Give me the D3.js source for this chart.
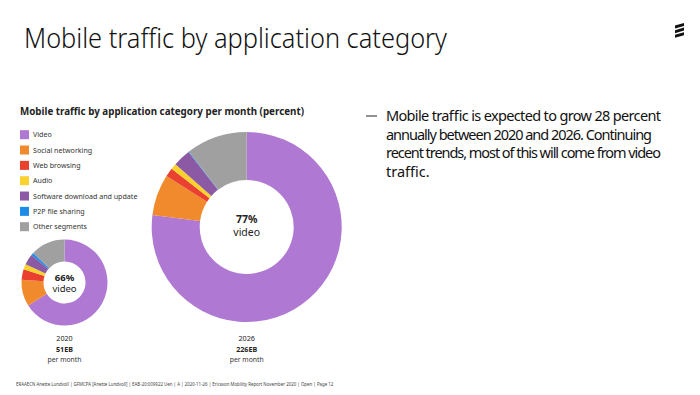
<!DOCTYPE html>
<html>
<head>
<meta charset="utf-8">
<script src="https://cdn.jsdelivr.net/npm/d3@7"></script>
<style>
  html, body { margin: 0; padding: 0; background: #fff; }
  svg { display: block; font-family: "Noto Sans", "DejaVu Sans", sans-serif; }
</style>
</head>
<body>
<svg id="chart" width="700" height="395"></svg>
<script>
// Data
const categories = ['Video', 'Social networking', 'Web browsing', 'Audio',
  'Software download and update', 'P2P file sharing', 'Other segments'];
const colors = ['#af78d2', '#f08a2c', '#e9402f', '#fad22d', '#8c5aa5', '#1e8ce6', '#a0a0a0'];
const share2020 = [66, 10, 4, 2, 4, 1, 13];
const share2026 = [77, 7, 1.5, 1, 3, 0.1, 10.4];
const years = ['2020', '2026'];
const volumes = ['51EB', '226EB'];
const videoLabels = ['66%', '77%'];
const bulletLines = [
  'Mobile traffic is expected to grow 28 percent',
  'annually between 2020 and 2026. Continuing',
  'recent trends, most of this will come from video',
  'traffic.'
];
const bulletWidths = [275, 266, 275, null];
const footer = 'ERAAECN Anette Lundvoll  |  GFMCPA [Anette Lundvoll]  |  EAB-20:009922 Uen  |  A  |  2020-11-26  |  Ericsson Mobility Report November 2020  |  Open  |  Page 12';

const svg = d3.select('#chart');

// Slide title
svg.append('text')
  .attr('x', 24).attr('y', 48)
  .attr('font-size', 28).attr('font-weight', 300)
  .attr('textLength', 423).attr('lengthAdjust', 'spacingAndGlyphs')
  .attr('fill', '#111')
  .text('Mobile traffic by application category');

// Logo: three slanted bars
const logo = svg.append('g').attr('transform', 'translate(675,23)');
[0, 4.6, 9.2].forEach(y => {
  logo.append('path')
    .attr('d', `M0,${y + 2.6} L9,${y} L9,${y + 3} L0,${y + 5.6} Z`)
    .attr('fill', '#111');
});

// Chart subtitle
svg.append('text')
  .attr('x', 20).attr('y', 115)
  .attr('font-size', 9.8).attr('font-weight', 700)
  .attr('fill', '#222')
  .text('Mobile traffic by application category per month (percent)');

// Legend
const legendY = d3.scaleLinear().domain([0, categories.length - 1]).range([134.7, 226.7]);
const legend = svg.append('g');
categories.forEach((c, i) => {
  legend.append('rect')
    .attr('x', 20).attr('y', legendY(i) - 4.5)
    .attr('width', 9).attr('height', 9)
    .attr('fill', colors[i]);
  legend.append('text')
    .attr('x', 33).attr('y', legendY(i) + 2.6)
    .attr('font-size', 7.1).attr('fill', '#333')
    .text(c);
});

// Donuts
const pie = d3.pie().sort(null).value(d => d);
const donuts = [
  { cx: 64.5, cy: 282.5, r: 43, ir: 21, values: share2020, fs: 9.5, y1: -2, y2: 9.5 },
  { cx: 246.7, cy: 227, r: 95, ir: 47, values: share2026, fs: 10.5, y1: -4.5, y2: 8.5 }
];

donuts.forEach((d, k) => {
  const arc = d3.arc().innerRadius(d.ir).outerRadius(d.r);
  const g = svg.append('g').attr('transform', `translate(${d.cx},${d.cy})`);
  g.selectAll('path')
    .data(pie(d.values))
    .join('path')
    .attr('d', arc)
    .attr('fill', (s, i) => colors[i]);

  g.append('text')
    .attr('text-anchor', 'middle').attr('y', d.y1)
    .attr('font-size', d.fs).attr('font-weight', 700).attr('fill', '#222')
    .text(videoLabels[k]);
  g.append('text')
    .attr('text-anchor', 'middle').attr('y', d.y2)
    .attr('font-size', d.fs).attr('fill', '#222')
    .text('video');

  const lab = svg.append('g').attr('transform', `translate(${d.cx},0)`);
  lab.append('text')
    .attr('text-anchor', 'middle').attr('y', 341)
    .attr('font-size', 7.2).attr('fill', '#222')
    .text(years[k]);
  lab.append('text')
    .attr('text-anchor', 'middle').attr('y', 351.5)
    .attr('font-size', 7.2).attr('font-weight', 700).attr('fill', '#222')
    .text(volumes[k]);
  lab.append('text')
    .attr('text-anchor', 'middle').attr('y', 361.5)
    .attr('font-size', 6.8).attr('fill', '#333')
    .text('per month');
});

// Bullet text
svg.append('line')
  .attr('x1', 366).attr('x2', 377)
  .attr('y1', 116).attr('y2', 116)
  .attr('stroke', '#222').attr('stroke-width', 1);
bulletLines.forEach((t, i) => {
  const line = svg.append('text')
    .attr('x', 386).attr('y', 121 + i * 18.7)
    .attr('font-size', 14.5).attr('fill', '#111')
    .text(t);
  if (bulletWidths[i]) line.attr('textLength', bulletWidths[i]).attr('lengthAdjust', 'spacing');
});

// Footer
svg.append('text')
  .attr('x', 16).attr('y', 386)
  .attr('font-size', 4.4).attr('fill', '#444')
  .text(footer);
</script>
</body>
</html>
